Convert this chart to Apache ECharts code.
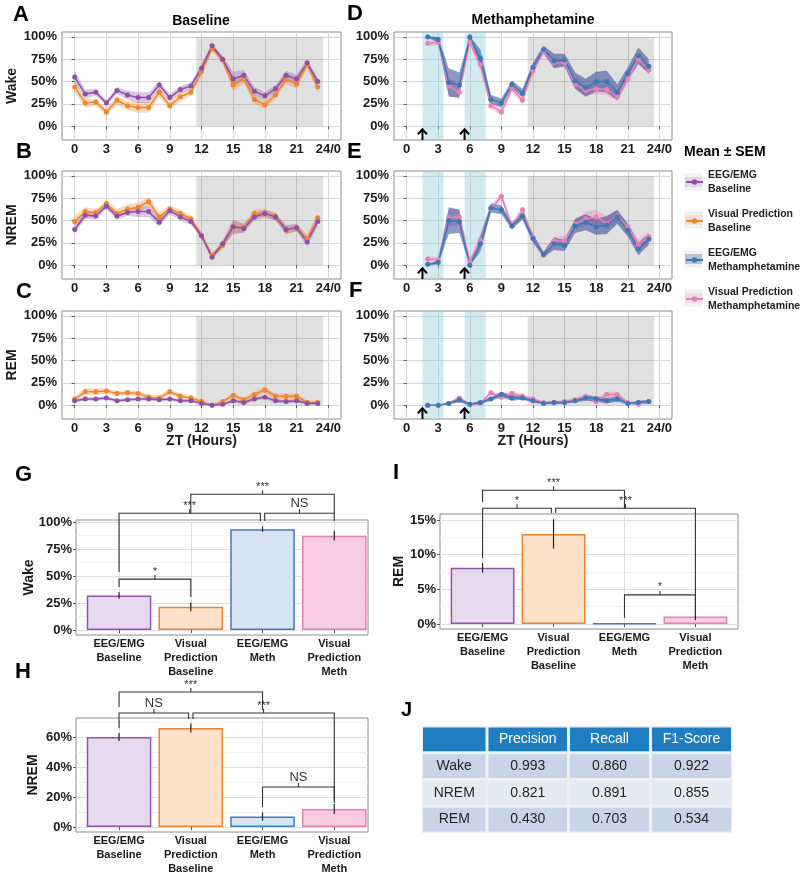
<!DOCTYPE html>
<html>
<head>
<meta charset="utf-8">
<script src="https://cdn.jsdelivr.net/npm/echarts@6/dist/echarts.min.js"></script>
<style>html,body{margin:0;padding:0;background:#fff}#c{width:800px;height:876px}</style>
</head>
<body>
<div id="c"></div>
<script>
// ---------------- DATA ----------------
const hours = [0,1,2,3,4,5,6,7,8,9,10,11,12,13,14,15,16,17,18,19,20,21,22,23];
const methHours = [2,3,4,5,6,7,8,9,10,11,12,13,14,15,16,17,18,19,20,21,22,23];
const hourTicks = [0,3,6,9,12,15,18,21,24];
const pctTicks = [0,25,50,75,100];
const darkPeriod = [11.5, 23.5];
const injectionWindows = [[1.5,3.5],[5.5,7.5]];
const injectionTimes = [1.5, 5.5];

// Baseline (percent of time, mean and SEM)
const eegBaseWake    = [55,36,38,26,40,35,32,32,46,32,41,45,65,90,75,53,57,39,34,42,57,53,71,50];
const eegBaseWakeSem = [7,5,4,3,4,5,6,6,5,4,4,4,5,3,4,8,6,5,4,4,5,5,4,4];
const visBaseWake    = [44,26,27,16,29,23,21,21,38,23,33,38,61,87,74,46,53,30,24,35,52,47,69,44];
const visBaseWakeSem = [6,5,4,4,5,5,6,6,5,4,5,4,5,3,4,7,5,5,5,4,5,5,4,6];
const eegBaseNrem    = [40,56,55,66,55,59,60,60,48,61,54,49,33,9,24,43,41,54,58,54,40,42,26,49];
const eegBaseNremSem = [5,4,4,3,4,4,6,6,5,4,4,4,4,3,4,8,5,4,4,4,5,4,5,5];
const visBaseNrem    = [49,60,59,69,58,63,65,71,54,63,58,52,33,11,22,43,42,58,58,55,39,42,30,53];
const visBaseNremSem = [6,5,4,4,5,5,5,6,5,4,4,4,4,3,4,7,5,4,5,4,5,4,5,5];
const eegBaseRem     = [5,7,7,8,5,6,7,7,6,7,5,5,2,0,1,5,3,7,9,5,4,5,2,2];
const eegBaseRemSem  = [2,2,2,2,2,2,2,2,2,2,2,2,1,1,1,2,2,2,2,2,2,2,1,1];
const visBaseRem     = [7,15,15,16,13,14,13,9,8,15,10,8,4,0,4,11,6,12,17,10,10,10,3,3];
const visBaseRemSem  = [3,4,4,3,3,3,3,3,3,3,3,3,2,1,2,3,3,3,4,3,3,3,2,2];

// Methamphetamine (hours 2..23)
const eegMethWake    = [100,97,49,46,100,76,30,26,47,37,66,86,73,74,51,43,50,50,38,59,79,67];
const eegMethWakeSem = [1,3,16,14,1,10,5,5,4,5,5,4,8,7,9,10,11,12,9,7,9,8];
const visMethWake    = [93,94,45,38,94,69,23,16,42,29,62,84,71,71,47,40,42,41,33,53,75,63];
const visMethWakeSem = [3,3,10,8,3,6,4,4,4,4,4,3,5,5,5,6,6,6,5,5,6,5];
const eegMethNrem    = [1,3,50,49,0,24,64,62,44,55,30,12,24,22,44,48,43,45,54,39,18,29];
const eegMethNremSem = [1,2,15,13,1,9,5,5,4,4,5,3,7,6,8,9,9,10,8,7,7,6];
const visMethNrem    = [7,6,53,54,4,28,63,77,44,62,31,11,27,27,46,52,54,47,55,43,23,32];
const visMethNremSem = [3,3,10,9,3,7,4,5,3,4,4,3,5,5,5,8,8,8,6,5,6,5];
const eegMethRem     = [0,0,2,6,1,3,7,12,8,8,5,2,3,3,5,8,7,5,7,2,3,4];
const eegMethRemSem  = [0,0,1,3,1,2,2,3,3,2,2,1,2,1,2,3,3,3,3,1,2,2];
const visMethRem     = [0,0,2,8,1,2,14,9,13,10,7,3,3,4,6,10,4,12,12,3,1,4];
const visMethRemSem  = [0,0,1,3,1,1,3,3,3,3,2,1,2,2,2,3,3,3,3,1,1,2];

// Bar panels (percent)
const barCats = ['EEG/EMG\nBaseline','Visual\nPrediction\nBaseline','EEG/EMG\nMeth','Visual\nPrediction\nMeth'];
const barPos = [1,2,3,4];
const wakeMean = [32, 21.5, 93.5, 87.5];
const wakeSem  = [3, 4, 2.5, 4.5];
const nremMean = [60, 66, 7, 12];
const nremSem  = [2.7, 3, 2.7, 3.3];
const remMean  = [8.1, 13.0, 0.1, 1.1];
const remSem   = [0.7, 2.1, 0, 0.55];
const wakeTicks = [0,25,50,75,100], wakeMinor = [12.5,37.5,62.5,87.5];
const nremTicks = [0,20,40,60],     nremMinor = [10,30,50,70];
const remTicks  = [0,5,10,15],      remMinor  = [2.5,7.5,12.5];

// significance brackets: [x1, x2, bracket level, left end, right end, label]
const sigWake = [
  [1, 2, 47.2, 40, 30.6, '*'],
  [1, 2.97, 108.3, 53.7, 101, '***'],
  [3.03, 4, 108.3, 101, 101, 'NS'],
  [2, 4, 125.9, 108.3, 108.3, '***']
];
const sigNrem = [
  [1, 3, 90, 80, 78, '***'],
  [1, 1.97, 76, 66, 72, 'NS'],
  [2.03, 4, 76, 72, 18, '***'],
  [3, 4, 26.7, 13.3, 16, 'NS']
];
const sigRem = [
  [1, 3, 19.3, 17.6, 16.7, '***'],
  [1, 1.97, 16.7, 9.5, 16.0, '*'],
  [2.03, 4, 16.7, 16.0, 1.3, '***'],
  [3, 4, 4.2, 0.9, 1.8, '*']
];

// Table J
const tableHeader = ['', 'Precision', 'Recall', 'F1-Score'];
const tableRows = ['Wake', 'NREM', 'REM'];
const precision = [0.993, 0.821, 0.430];
const recall    = [0.860, 0.891, 0.703];
const f1Score   = [0.922, 0.855, 0.534];

// ---------------- STYLE ----------------
const FONT = "'Liberation Sans', Arial, Helvetica, sans-serif";
const NAMES = ['EEG/EMG\nBaseline','Visual Prediction\nBaseline','EEG/EMG\nMethamphetamine','Visual Prediction\nMethamphetamine'];
const C_PURPLE = '#8E4FA6', C_ORANGE = '#EE8630', C_BLUE = '#3B78B8', C_PINK = '#EC7FB2';
const B_PURPLE = 'rgba(142,79,166,0.33)', B_ORANGE = 'rgba(238,134,48,0.32)', B_BLUE = 'rgba(45,70,150,0.55)', B_PINK = 'rgba(236,127,178,0.35)';
const barFill = ['#E7D9ED','#FDE2C9','#D6E4F3','#F8CCE0'];
const barBorder = [ '#9454AC','#EA8433','#3E7CBF','#E67FB3'];
const GRID_LINE = '#d6d6d6', BORDER = '#8c8c8c', TXT = '#1a1a1a';

const lineGrids = [
  {left:62, top:32, width:279, height:108},
  {left:62, top:171, width:279, height:108},
  {left:62, top:311, width:279, height:108},
  {left:394, top:32, width:278, height:108},
  {left:394, top:171, width:278, height:108},
  {left:394, top:311, width:278, height:108}
];
const barGrids = [
  {left:76, top:520, width:292, height:115, xMax:4.47, yMin:-4.6, yMax:102, nameGap:40},
  {left:76, top:718, width:292, height:114, xMax:4.47, yMin:-3.3, yMax:72.7, nameGap:36},
  {left:440, top:514, width:298, height:115, xMax:4.6, yMin:-0.72, yMax:15.87, nameGap:34}
];
const tableGrid = {left:421.5, top:726, width:311, height:107};
const colEdges = [0, 65.5, 147, 229, 311];

const grids = [];
const xAxes = [];
const yAxes = [];
const series = [];

function baseGrid(g) {
  return {left:g.left, top:g.top, width:g.width, height:g.height, show:true,
    borderColor:BORDER, borderWidth:1, backgroundColor:'#fff', containLabel:false, outerBoundsMode:'none'};
}
const labelStyle = {fontFamily:FONT, fontSize:13, fontWeight:'bold', color:TXT};
const nameStyle = {fontFamily:FONT, fontSize:14, fontWeight:'bold', color:TXT};

// ---- line panels ----
const yNames = ['Wake','NREM','REM','','',''];
lineGrids.forEach((g, i) => {
  grids.push(baseGrid(g));
  xAxes.push({type:'value', gridIndex:i, min:-1.2, max:25.2,
    name: (i === 2 || i === 5) ? 'ZT (Hours)' : '', nameLocation:'middle', nameGap:15, nameMoveOverlap:false,
    nameTextStyle:nameStyle,
    axisLine:{show:false},
    axisTick:{show:true, length:3, lineStyle:{color:'#555'}, customValues:hourTicks},
    axisLabel:Object.assign({customValues:hourTicks, margin:3, formatter:v => v === 24 ? '24/0' : String(v)}, labelStyle),
    splitLine:{show:true, lineStyle:{color:GRID_LINE, width:1}}
  });
  yAxes.push({type:'value', gridIndex:i, min:-15.5, max:105.5,
    name:yNames[i], nameLocation:'middle', nameGap:43, nameMoveOverlap:false, nameTextStyle:nameStyle,
    axisLine:{show:false},
    axisTick:{show:true, length:3, lineStyle:{color:'#555'}, customValues:pctTicks},
    axisLabel:Object.assign({customValues:pctTicks, margin:5, formatter:v => v + '%'}, labelStyle),
    splitLine:{show:true, lineStyle:{color:GRID_LINE, width:1}}
  });
});

const linePanels = [
  {g:0, xs:hours, meth:false, s:[
    {n:NAMES[0], m:eegBaseWake, e:eegBaseWakeSem, c:C_PURPLE, b:B_PURPLE},
    {n:NAMES[1], m:visBaseWake, e:visBaseWakeSem, c:C_ORANGE, b:B_ORANGE}]},
  {g:1, xs:hours, meth:false, s:[
    {n:NAMES[0], m:eegBaseNrem, e:eegBaseNremSem, c:C_PURPLE, b:B_PURPLE},
    {n:NAMES[1], m:visBaseNrem, e:visBaseNremSem, c:C_ORANGE, b:B_ORANGE}]},
  {g:2, xs:hours, meth:false, s:[
    {n:NAMES[0], m:eegBaseRem, e:eegBaseRemSem, c:C_PURPLE, b:B_PURPLE},
    {n:NAMES[1], m:visBaseRem, e:visBaseRemSem, c:C_ORANGE, b:B_ORANGE}]},
  {g:3, xs:methHours, meth:true, s:[
    {n:NAMES[2], m:eegMethWake, e:eegMethWakeSem, c:C_BLUE, b:B_BLUE},
    {n:NAMES[3], m:visMethWake, e:visMethWakeSem, c:C_PINK, b:B_PINK}]},
  {g:4, xs:methHours, meth:true, s:[
    {n:NAMES[2], m:eegMethNrem, e:eegMethNremSem, c:C_BLUE, b:B_BLUE},
    {n:NAMES[3], m:visMethNrem, e:visMethNremSem, c:C_PINK, b:B_PINK}]},
  {g:5, xs:methHours, meth:true, s:[
    {n:NAMES[2], m:eegMethRem, e:eegMethRemSem, c:C_BLUE, b:B_BLUE},
    {n:NAMES[3], m:visMethRem, e:visMethRemSem, c:C_PINK, b:B_PINK}]}
];

linePanels.forEach(p => {
  const areas = [[{xAxis:darkPeriod[0], yAxis:0, itemStyle:{color:'rgba(131,131,131,0.25)'}}, {xAxis:darkPeriod[1], yAxis:100}]];
  if (p.meth) {
    injectionWindows.forEach(w => {
      areas.push([{xAxis:w[0], itemStyle:{color:'rgba(137,202,217,0.4)'}}, {xAxis:w[1]}]);
    });
  }
  series.push({type:'line', name:'_periods' + p.g, xAxisIndex:p.g, yAxisIndex:p.g, data:[], z:1, silent:true,
    markArea:{silent:true, data:areas}});
  [p.s[1], p.s[0]].forEach(s => {
    const xs = p.xs;
    series.push({type:'custom', name:'_band', xAxisIndex:p.g, yAxisIndex:p.g, z:2, silent:true,
      data: xs.map((x, i) => [x, s.m[i] - s.e[i], s.m[i] + s.e[i]]),
      encode:{x:0, y:[1,2]},
      renderItem:(params, api) => {
        if (params.dataIndex !== 0) return null;
        const top = [], bot = [];
        for (let i = 0; i < xs.length; i++) {
          top.push(api.coord([xs[i], s.m[i] + s.e[i]]));
          bot.push(api.coord([xs[i], s.m[i] - s.e[i]]));
        }
        return {type:'polygon', shape:{points: top.concat(bot.reverse())}, style:{fill:s.b}};
      }
    });
  });
  [p.s[1], p.s[0]].forEach(s => {
    series.push({type:'line', name:s.n, xAxisIndex:p.g, yAxisIndex:p.g, z:3,
      data:p.xs.map((x, i) => [x, s.m[i]]),
      symbol:'circle', symbolSize:5, showSymbol:true,
      lineStyle:{width:1.5, color:s.c}, itemStyle:{color:s.c}, silent:true});
  });
  if (p.meth) {
    series.push({type:'custom', name:'_arrows', xAxisIndex:p.g, yAxisIndex:p.g, z:4, silent:true, clip:false,
      data:injectionTimes.map(t => [t, -10]),
      encode:{x:0, y:1},
      renderItem:(params, api) => {
        const t = api.value(0);
        const b = api.coord([t, -15.5]);
        const tip = api.coord([t, -3.5]);
        return {type:'group', children:[
          {type:'line', shape:{x1:b[0], y1:b[1], x2:tip[0], y2:tip[1]+1}, style:{stroke:'#000', lineWidth:2}},
          {type:'polyline', shape:{points:[[tip[0]-4.5, tip[1]+5], [tip[0], tip[1]], [tip[0]+4.5, tip[1]+5]]}, style:{stroke:'#000', lineWidth:2, fill:null}}
        ]};
      }
    });
  }
});

// ---- bar panels ----
const barPanels = [
  {mean:wakeMean, sem:wakeSem, ticks:wakeTicks, minor:wakeMinor, sig:sigWake, name:'Wake'},
  {mean:nremMean, sem:nremSem, ticks:nremTicks, minor:nremMinor, sig:sigNrem, name:'NREM'},
  {mean:remMean, sem:remSem, ticks:remTicks, minor:remMinor, sig:sigRem, name:'REM'}
];
barPanels.forEach((p, k) => {
  const g = barGrids[k];
  const gi = 6 + k;
  grids.push(baseGrid(g));
  xAxes.push({type:'value', gridIndex:gi, min:0.4, max:g.xMax,
    axisLine:{show:false},
    axisTick:{show:true, length:3, lineStyle:{color:'#555'}, customValues:barPos},
    axisLabel:{customValues:barPos, margin:2, formatter:v => barCats[Math.round(v) - 1],
      fontFamily:FONT, fontSize:11, fontWeight:'bold', color:TXT, lineHeight:14},
    splitLine:{show:true, lineStyle:{color:'#dedede', width:1}}
  });
  yAxes.push({type:'value', gridIndex:gi, min:g.yMin, max:g.yMax,
    name:p.name, nameLocation:'middle', nameGap:g.nameGap, nameMoveOverlap:false, nameTextStyle:nameStyle,
    axisLine:{show:false},
    axisTick:{show:true, length:3, lineStyle:{color:'#555'}, customValues:p.ticks},
    axisLabel:Object.assign({customValues:p.ticks, margin:4, formatter:v => v + '%'}, labelStyle),
    splitLine:{show:true, lineStyle:{color:'#dedede', width:1}}
  });
  const pxPerUnit = g.width / (g.xMax - 0.4);
  series.push({type:'bar', name:'_bars' + k, xAxisIndex:gi, yAxisIndex:gi, z:2, silent:true,
    barWidth: 0.9 * pxPerUnit,
    data: barPos.map((x, i) => ({value:[x, p.mean[i]],
      itemStyle:{color:barFill[i], borderColor:barBorder[i], borderWidth:1.5}}))
  });
  series.push({type:'custom', name:'_err' + k, xAxisIndex:gi, yAxisIndex:gi, z:3, silent:true,
    data: barPos.map((x, i) => [x, p.mean[i] - p.sem[i], p.mean[i] + p.sem[i]]),
    encode:{x:0, y:[1,2]},
    renderItem:(params, api) => {
      const a = api.coord([api.value(0), api.value(1)]);
      const b = api.coord([api.value(0), api.value(2)]);
      return {type:'line', shape:{x1:a[0], y1:a[1], x2:b[0], y2:b[1]}, style:{stroke:'#222', lineWidth:1.2}};
    }
  });
  series.push({type:'custom', name:'_sig' + k, xAxisIndex:gi, yAxisIndex:gi, z:4, silent:true, clip:false,
    data: p.sig.map(b => [b[0], b[2]]),
    encode:{x:0, y:1},
    renderItem:(params, api) => {
      const b = p.sig[params.dataIndex];
      const L = api.coord([b[0], b[2]]), R = api.coord([b[1], b[2]]);
      const L2 = api.coord([b[0], b[3]]), R2 = api.coord([b[1], b[4]]);
      const mx = (L[0] + R[0]) / 2;
      const tickTop = L[1] - 4;
      const isNS = b[5] === 'NS';
      return {type:'group', children:[
        {type:'polyline', shape:{points:[L2, L, R, R2]}, style:{stroke:'#333', lineWidth:1.1, fill:null}},
        {type:'line', shape:{x1:mx, y1:L[1], x2:mx, y2:tickTop}, style:{stroke:'#333', lineWidth:1.1}},
        {type:'text', x:mx, y:tickTop + (isNS ? 1 : 2), style:{text:b[5], fill:'#333',
          font:(isNS ? '13px ' : '11px ') + FONT, align:'center', verticalAlign:'bottom',
          textAlign:'center', textVerticalAlign:'bottom'}}
      ]};
    }
  });
});
// minor grid axes for bar panels
barPanels.forEach((p, k) => {
  const g = barGrids[k];
  yAxes.push({type:'value', gridIndex:6 + k, min:g.yMin, max:g.yMax, position:'right',
    axisLine:{show:false}, axisTick:{show:false, customValues:p.minor}, axisLabel:{show:false, customValues:p.minor},
    splitLine:{show:true, lineStyle:{color:'#ededed', width:0.8}}});
});

// ---- table ----
grids.push({left:tableGrid.left, top:tableGrid.top, width:tableGrid.width, height:tableGrid.height,
  show:true, borderWidth:0, backgroundColor:'#EDF0F5', containLabel:false, outerBoundsMode:'none'});
xAxes.push({type:'value', gridIndex:9, min:0, max:colEdges[colEdges.length - 1], show:false});
yAxes.push({type:'category', gridIndex:9, data:['header'].concat(tableRows), inverse:true, show:false});
const tableYAxisIndex = yAxes.length - 1;
const cells = [];
for (let r = 0; r <= tableRows.length; r++) for (let c = 0; c < tableHeader.length; c++) cells.push({r, c});
const metrics = [precision, recall, f1Score];
series.push({type:'custom', name:'_table', xAxisIndex:9, yAxisIndex:tableYAxisIndex, silent:true, z:2,
  data: cells.map(o => [(colEdges[o.c] + colEdges[o.c + 1]) / 2, o.r]),
  encode:{x:0, y:1},
  renderItem:(params, api) => {
    const o = cells[params.dataIndex];
    const a = api.coord([colEdges[o.c], o.r]);
    const b = api.coord([colEdges[o.c + 1], o.r]);
    const h = api.size([0, 1])[1];
    const fill = o.r === 0 ? '#1F7DC2' : (o.r === 2 ? '#E4E9F2' : '#C9D4E6');
    const txt = o.r === 0 ? tableHeader[o.c] : (o.c === 0 ? tableRows[o.r - 1] : metrics[o.c - 1][o.r - 1].toFixed(3));
    return {type:'group', children:[
      {type:'rect', shape:{x:a[0] + 1.5, y:a[1] - h / 2 + 1.5, width:b[0] - a[0] - 3, height:h - 3}, style:{fill}},
      {type:'text', x:(a[0] + b[0]) / 2, y:a[1], style:{text:txt, fill:o.r === 0 ? '#fff' : '#262626',
        font:'14px ' + FONT, align:'center', verticalAlign:'middle', textAlign:'center', textVerticalAlign:'middle'}}
    ]};
  }
});

// ---- free text ----
function txt(t, x, y, size, align, weight) {
  return {type:'text', x, y, silent:true, style:{text:t, fill:'#000', font:(weight || 'bold') + ' ' + size + 'px ' + FONT,
    align:align, verticalAlign:'middle', textAlign:align, textVerticalAlign:'middle'}};
}
const legendKeyBg = [B_PURPLE, B_ORANGE, B_BLUE, B_PINK];
const legendKeyY = [182, 220, 259, 298];
const graphics = [
  txt('A', 13, 15, 22, 'left'), txt('B', 16, 152, 22, 'left'), txt('C', 16, 292, 22, 'left'),
  txt('D', 347, 14, 22, 'left'), txt('E', 347, 152, 22, 'left'), txt('F', 349, 291, 22, 'left'),
  txt('G', 15, 475, 22, 'left'), txt('H', 15, 672, 22, 'left'), txt('I', 393, 473, 22, 'left'),
  txt('J', 401, 710, 20, 'left'),
  txt('Baseline', 201, 21, 14, 'center'),
  txt('Methamphetamine', 533, 20, 14, 'center'),
  txt('Mean ± SEM', 684, 152, 14, 'left')
].concat(legendKeyY.map((y, i) => ({type:'rect', silent:true, z:-1,
  shape:{x:685, y:y - 8, width:17, height:16},
  style:{fill:'#f2f2f2', stroke:'#e6e6e6', lineWidth:0.5}})))
 .concat(legendKeyY.map((y, i) => ({type:'rect', silent:true, z:-1,
  shape:{x:685, y:y - 5, width:17, height:10},
  style:{fill:legendKeyBg[i], opacity:0.5}})));

const option = {
  animation:false,
  backgroundColor:'#fff',
  textStyle:{fontFamily:FONT},
  grid:grids,
  xAxis:xAxes,
  yAxis:yAxes,
  legend:{data:NAMES, orient:'vertical', left:685, top:168, padding:0, itemWidth:17, itemHeight:7, itemGap:11,
    selectedMode:false, z:5,
    textStyle:{fontFamily:FONT, fontSize:10.5, fontWeight:'bold', color:'#222', lineHeight:14}},
  graphic:graphics,
  series:series
};
const chart = echarts.init(document.getElementById('c'), null, {renderer:'canvas'});
chart.setOption(option);
</script>
</body>
</html>
